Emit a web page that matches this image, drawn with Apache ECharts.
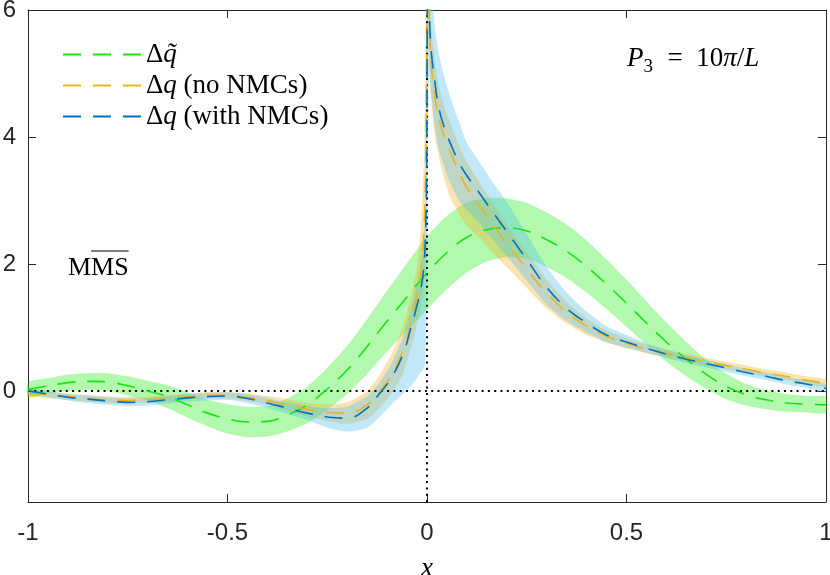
<!DOCTYPE html>
<html><head><meta charset="utf-8">
<script src="https://cdn.jsdelivr.net/npm/echarts@6/dist/echarts.min.js"></script>
<style>html,body{margin:0;padding:0;background:#fff}#c{width:830px;height:575px}</style>
</head><body><div id="c"></div>
<script>
// ---------- data ----------
const xTicks = [-1, -0.5, 0, 0.5, 1];
const yTicks = [0, 2, 4, 6];

// Δq~ (green) sampled on xs
const xs = [-1,-0.95,-0.9,-0.85,-0.8,-0.75,-0.7,-0.65,-0.6,-0.55,-0.5,-0.45,-0.4,-0.35,-0.3,-0.25,-0.2,-0.15,-0.1,-0.05,0,0.05,0.1,0.15,0.2,0.25,0.3,0.35,0.4,0.45,0.5,0.55,0.6,0.65,0.7,0.75,0.8,0.85,0.9,0.95,1];
const gMid = [0.02,0.08,0.13,0.15,0.14,0.08,0.0,-0.09,-0.22,-0.35,-0.44,-0.49,-0.48,-0.38,-0.22,0.03,0.33,0.70,1.10,1.48,1.86,2.18,2.42,2.54,2.57,2.52,2.38,2.20,1.96,1.68,1.38,1.07,0.77,0.50,0.26,0.07,-0.06,-0.14,-0.19,-0.21,-0.22];
const gHi  = [0.14,0.20,0.26,0.28,0.28,0.23,0.16,0.09,-0.02,-0.14,-0.21,-0.25,-0.24,-0.12,0.07,0.36,0.71,1.13,1.58,2.01,2.44,2.76,2.97,3.04,3.03,2.96,2.81,2.62,2.37,2.07,1.75,1.41,1.08,0.77,0.49,0.27,0.11,0.01,-0.05,-0.08,-0.09];
const gLo  = [-0.10,-0.04,0.00,0.02,0.00,-0.07,-0.16,-0.27,-0.42,-0.56,-0.67,-0.73,-0.72,-0.64,-0.51,-0.30,-0.05,0.27,0.62,0.95,1.28,1.60,1.87,2.04,2.11,2.08,1.95,1.78,1.55,1.29,1.01,0.73,0.46,0.23,0.03,-0.13,-0.23,-0.29,-0.33,-0.34,-0.35];

// Δq (no NMCs, orange) and Δq (with NMCs, blue) sampled on xq
const xq = [-1,-0.95,-0.9,-0.85,-0.8,-0.75,-0.7,-0.65,-0.6,-0.55,-0.5,-0.45,-0.4,-0.35,-0.3,-0.25,-0.2,-0.15,-0.12,-0.09,-0.06,-0.04,-0.025,-0.015,-0.008,-0.004,-0.001,0.002,0.005,0.01,0.02,0.03,0.045,0.06,0.08,0.1,0.13,0.16,0.2,0.25,0.3,0.35,0.4,0.45,0.5,0.55,0.6,0.65,0.7,0.75,0.8,0.85,0.9,0.95,1];
const bMid = [0.00,-0.05,-0.10,-0.13,-0.16,-0.18,-0.17,-0.14,-0.11,-0.09,-0.08,-0.12,-0.19,-0.27,-0.35,-0.41,-0.43,-0.27,-0.05,0.20,0.58,1.00,1.35,1.62,1.95,2.4,3.4,6.8,6.1,5.4,4.85,4.45,4.12,3.88,3.6,3.39,3.13,2.86,2.51,2.07,1.63,1.30,1.07,0.88,0.77,0.67,0.58,0.50,0.43,0.36,0.29,0.23,0.16,0.11,0.04];
const bHi  = [0.05,0.00,-0.05,-0.07,-0.10,-0.12,-0.11,-0.08,-0.05,-0.03,-0.02,-0.05,-0.11,-0.18,-0.24,-0.27,-0.25,-0.08,0.12,0.42,0.85,1.3,1.7,2.0,2.4,3.0,4.5,8.0,7.0,6.3,5.7,5.3,4.9,4.6,4.25,3.9,3.62,3.33,2.98,2.47,1.95,1.55,1.25,1.02,0.88,0.75,0.65,0.56,0.49,0.42,0.35,0.29,0.22,0.17,0.10];
const bLo  = [-0.05,-0.10,-0.15,-0.19,-0.22,-0.24,-0.23,-0.20,-0.17,-0.15,-0.14,-0.19,-0.27,-0.36,-0.46,-0.58,-0.64,-0.58,-0.42,-0.22,-0.05,0.08,0.2,0.3,0.35,0.5,1.2,3.0,5.0,4.7,4.15,3.8,3.5,3.25,3.0,2.85,2.65,2.42,2.12,1.74,1.36,1.1,0.92,0.77,0.68,0.6,0.52,0.44,0.37,0.30,0.23,0.17,0.10,0.05,-0.02];
const oMid = [-0.04,-0.06,-0.09,-0.12,-0.14,-0.15,-0.14,-0.12,-0.09,-0.07,-0.07,-0.10,-0.15,-0.22,-0.29,-0.34,-0.35,-0.22,-0.02,0.24,0.64,1.08,1.50,1.90,2.5,3.3,5.0,7.0,6.0,5.2,4.62,4.28,3.98,3.74,3.45,3.2,2.93,2.66,2.32,1.92,1.54,1.24,1.02,0.86,0.75,0.66,0.59,0.52,0.46,0.40,0.34,0.28,0.23,0.17,0.12];
const oHi  = [0.01,-0.01,-0.04,-0.07,-0.09,-0.10,-0.09,-0.07,-0.04,-0.02,-0.02,-0.04,-0.08,-0.13,-0.19,-0.21,-0.18,0.00,0.24,0.56,1.02,1.48,1.95,2.6,3.6,5.0,7.0,8.5,6.6,5.8,5.15,4.8,4.45,4.2,3.87,3.6,3.3,3.0,2.62,2.18,1.76,1.40,1.14,0.95,0.83,0.73,0.65,0.58,0.52,0.46,0.40,0.34,0.29,0.23,0.18];
const oLo  = [-0.09,-0.11,-0.14,-0.17,-0.19,-0.20,-0.19,-0.17,-0.14,-0.12,-0.12,-0.16,-0.22,-0.31,-0.40,-0.47,-0.52,-0.44,-0.28,-0.05,0.28,0.68,1.05,1.35,1.7,2.2,3.0,5.5,5.3,4.6,4.0,3.68,3.3,3.02,2.8,2.6,2.42,2.2,1.95,1.62,1.3,1.06,0.88,0.76,0.67,0.59,0.53,0.46,0.40,0.34,0.28,0.22,0.17,0.11,0.06];

const seriesNames = ['Δq̃', 'Δq (no NMCs)', 'Δq (with NMCs)'];
const legendRich = {
  'Δq̃': '{r|Δ}{i|q̃}',
  'Δq (no NMCs)': '{r|Δ}{i|q}{r| (no NMCs)}',
  'Δq (with NMCs)': '{r|Δ}{i|q}{r| (with NMCs)}'
};
const xRange = [-1, 1];
const yRange = [-1.75, 6];

// ---------- rendering ----------
const SERIF = '"Liberation Serif", "Times New Roman", serif';
const SANS = '"Liberation Sans", Arial, Helvetica, sans-serif';
const AX = '#262626';
const chart = echarts.init(document.getElementById('c'), null, {renderer: 'canvas'});
const pairs = (xa, ya) => xa.map((x, i) => [x, ya[i]]);

function clipPoly(pts, r) {
  const edges = [
    [p => p[0] >= r.x, (a, b) => { const t = (r.x - a[0]) / (b[0] - a[0]); return [r.x, a[1] + t * (b[1] - a[1])]; }],
    [p => p[0] <= r.x + r.width, (a, b) => { const X = r.x + r.width; const t = (X - a[0]) / (b[0] - a[0]); return [X, a[1] + t * (b[1] - a[1])]; }],
    [p => p[1] >= r.y, (a, b) => { const t = (r.y - a[1]) / (b[1] - a[1]); return [a[0] + t * (b[0] - a[0]), r.y]; }],
    [p => p[1] <= r.y + r.height, (a, b) => { const Y = r.y + r.height; const t = (Y - a[1]) / (b[1] - a[1]); return [a[0] + t * (b[0] - a[0]), Y]; }]
  ];
  let out = pts;
  for (const [inside, inter] of edges) {
    const inp = out; out = [];
    for (let i = 0; i < inp.length; i++) {
      const cur = inp[i], prev = inp[(i + inp.length - 1) % inp.length];
      if (inside(cur)) { if (!inside(prev)) out.push(inter(prev, cur)); out.push(cur); }
      else if (inside(prev)) out.push(inter(prev, cur));
    }
    if (!out.length) break;
  }
  return out;
}

function band(xa, hi, lo, color) {
  return {
    type: 'custom', silent: true, z: 1,
    data: [[xa[0], lo[0]]],
    encode: {x: 0, y: 1},
    renderItem(params, api) {
      const pts = [];
      for (let i = 0; i < xa.length; i++) pts.push(api.coord([xa[i], hi[i]]));
      for (let i = xa.length - 1; i >= 0; i--) pts.push(api.coord([xa[i], lo[i]]));
      const cs = params.coordSys;
      return {type: 'polygon', shape: {points: clipPoly(pts, cs), smooth: 0.2}, style: {fill: color}};
    }
  };
}

function curve(name, xa, ya, color) {
  return {
    type: 'line', name, data: pairs(xa, ya), symbol: 'none', showSymbol: false,
    smooth: 0.4, clip: true, silent: true, z: 3,
    lineStyle: {color, width: 1.6, type: [18, 12]}, itemStyle: {color}
  };
}

function refLine(data) {
  return {
    type: 'line', data, symbol: 'none', silent: true, z: 2, clip: true,
    lineStyle: {color: '#000', width: 2, type: [2, 4.3]}
  };
}

const option = {
  animation: false,
  backgroundColor: '#fff',
  grid: {left: 28, right: 4, top: 10, bottom: 73, containLabel: false, outerBoundsMode: 'none'},
  xAxis: [
    {type: 'value', min: xRange[0], max: xRange[1], interval: 0.5,
     axisLine: {show: true, onZero: false, lineStyle: {color: AX, width: 1}},
     axisTick: {show: true, inside: true, length: 8, lineStyle: {color: AX}},
     splitLine: {show: false},
     axisLabel: {color: AX, fontFamily: SANS, fontSize: 24, margin: 19,
                 formatter: v => xTicks.includes(v) ? String(v) : ''},
     name: 'x', nameLocation: 'middle', nameGap: 53,
     nameTextStyle: {fontFamily: SERIF, fontStyle: 'italic', fontSize: 27, color: '#000'}},
    {type: 'value', position: 'top', min: xRange[0], max: xRange[1], interval: 0.5,
     axisLine: {show: true, onZero: false, lineStyle: {color: AX, width: 1}},
     axisTick: {show: true, inside: true, length: 8, lineStyle: {color: AX}},
     axisLabel: {show: false}, splitLine: {show: false}}
  ],
  yAxis: [
    {type: 'value', min: yRange[0], max: yRange[1],
     axisLine: {show: true, onZero: false, lineStyle: {color: AX, width: 1}},
     axisTick: {show: true, inside: true, length: 8, lineStyle: {color: AX}, customValues: yTicks},
     axisLabel: {color: AX, fontFamily: SANS, fontSize: 24, margin: 12, customValues: yTicks,
                 formatter: v => String(v)},
     splitLine: {show: false}},
    {type: 'value', position: 'right', min: yRange[0], max: yRange[1],
     axisLine: {show: true, onZero: false, lineStyle: {color: AX, width: 1}},
     axisTick: {show: true, inside: true, length: 8, lineStyle: {color: AX}, customValues: yTicks},
     axisLabel: {show: false}, splitLine: {show: false}}
  ],
  legend: {
    data: seriesNames, orient: 'vertical', left: 57, top: 36,
    itemWidth: 78, itemHeight: 14, itemGap: 4,
    itemStyle: {color: 'rgba(0,0,0,0)', borderColor: 'rgba(0,0,0,0)', borderWidth: 0},
    formatter: n => legendRich[n],
    textStyle: {fontFamily: SERIF, fontSize: 27, color: '#000', padding: [0, 0, 0, 0],
      rich: {
        r: {fontFamily: SERIF, fontSize: 27, color: '#000'},
        i: {fontFamily: SERIF, fontSize: 27, fontStyle: 'italic', color: '#000'}
      }},
    selectedMode: false
  },
  series: [
    band(xs, gHi, gLo, 'rgba(20,235,0,0.32)'),
    band(xq, oHi, oLo, 'rgba(237,177,32,0.35)'),
    band(xq, bHi, bLo, 'rgba(77,190,238,0.35)'),
    refLine([[xRange[0], 0], [xRange[1], 0]]),
    refLine([[0, yRange[0]], [0, yRange[1]]]),
    curve(seriesNames[0], xs, gMid, '#14e614'),
    curve(seriesNames[1], xq, oMid, '#EDB120'),
    curve(seriesNames[2], xq, bMid, '#0072BD')
  ]
};
chart.setOption(option);

// annotations
const cv = document.createElement('canvas').getContext('2d');
cv.font = '26px "Liberation Serif"';
const wM = cv.measureText('M').width;
const wMS = cv.measureText('MS').width;
const mx = 68, my = 251;
chart.setOption({graphic: [
  {type: 'text', left: 627, top: 45, silent: true,
   style: {text: '{i|P}{s|3}{r|  =  10}{i|π}{r|/}{i|L}', rich: {
     i: {fontFamily: SERIF, fontSize: 27, fontStyle: 'italic', fill: '#000'},
     r: {fontFamily: SERIF, fontSize: 27, fill: '#000'},
     s: {fontFamily: SERIF, fontSize: 19, fill: '#000', padding: [18, 1, 0, 0]}
   }}},
  {type: 'group', silent: true, children: [
    {type: 'text', x: mx, y: my + 4, style: {text: 'MMS', font: '26px "Liberation Serif"', fill: '#000'}},
    {type: 'line', shape: {x1: mx + wM, y1: my, x2: mx + wM + wMS, y2: my}, style: {stroke: '#000', lineWidth: 1.2}}
  ]}
]});
</script></body></html>
